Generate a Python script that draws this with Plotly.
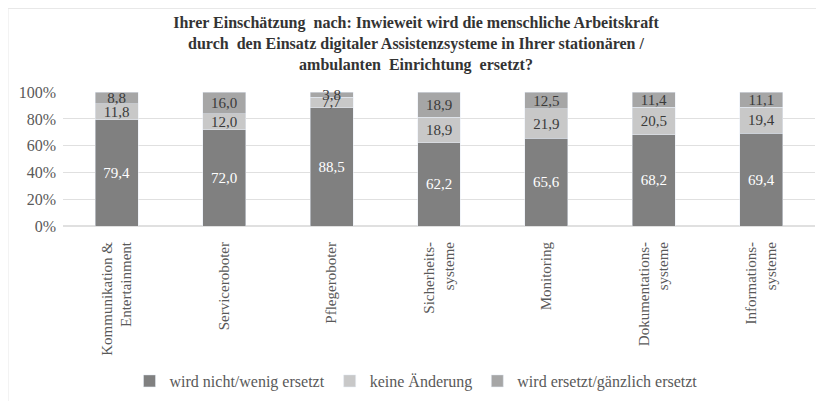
import plotly.graph_objects as go

categories = ["Kommunikation &<br>Entertainment", "Serviceroboter", "Pflegeroboter",
              "Sicherheits-<br>systeme", "Monitoring", "Dokumentations-<br>systeme",
              "Informations-<br>systeme"]
series_names = ["wird nicht/wenig ersetzt", "keine Änderung", "wird ersetzt/gänzlich ersetzt"]
nicht = [79.4, 72.0, 88.5, 62.2, 65.6, 68.2, 69.4]
keine = [11.8, 12.0, 7.7, 18.9, 21.9, 20.5, 19.4]
ersetzt = [8.8, 16.0, 3.8, 18.9, 12.5, 11.4, 11.1]
tick_vals = [0, 20, 40, 60, 80, 100]
tick_text = ["0%", "20%", "40%", "60%", "80%", "100%"]

colors = ["#808080", "#c8c8c8", "#a6a6a6"]
text_colors = ["#ffffff", "#3a3a3a", "#3a3a3a"]
FONT = "Liberation Serif"

# page body adds an 8px offset; figure is sized 816x393 to compensate
W, H = 816, 393

fig = go.Figure()
for name, vals, col, tc in zip(series_names, [nicht, keine, ersetzt], colors, text_colors):
    fig.add_trace(go.Bar(
        x=categories, y=vals, name=name, marker_color=col,
        text=[f"{v:.1f}".replace(".", ",") for v in vals],
        textposition="inside", insidetextanchor="middle", textangle=0,
        textfont=dict(family=FONT, size=15, color=tc),
        constraintext="none", cliponaxis=False,
    ))

fig.update_layout(
    barmode="stack", bargap=0.6,
    width=W, height=H,
    margin=dict(l=55, r=9, t=84, b=175),
    paper_bgcolor="white", plot_bgcolor="white",
    font=dict(family=FONT, color="#595959"),
    title=dict(
        text="<b>Ihrer Einschätzung  nach: Inwieweit wird die menschliche Arbeitskraft<br>"
             "durch  den Einsatz digitaler Assistenzsysteme in Ihrer stationären /<br>"
             "ambulanten  Einrichtung  ersetzt?</b>",
        x=0.5, xanchor="center", y=1 - 20 / H, yanchor="middle",
        font=dict(family=FONT, size=16, color="#333333"),
    ),
    xaxis=dict(tickangle=-90, tickfont=dict(family=FONT, size=15, color="#595959"),
               showline=False, ticks="", showgrid=False, automargin=False,
               ticklabelstandoff=12),
    yaxis=dict(range=[0, 100.15], tickvals=tick_vals, ticktext=tick_text,
               tickfont=dict(family=FONT, size=16, color="#595959"),
               showgrid=True, gridcolor="#e0e0e0", gridwidth=1, zeroline=True,
               zerolinecolor="#e0e0e0", ticks="", ticklabelstandoff=6, automargin=False),
    legend=dict(orientation="h", x=0.5, xref="container", xanchor="center",
                y=1 - 373 / H, yref="container", yanchor="middle",
                font=dict(family=FONT, size=16, color="#595959"),
                itemwidth=30, traceorder="normal"),
    shapes=[dict(type="rect", xref="paper", yref="paper",
                 x0=-55 / 752, x1=1.02, y0=-1.5, y1=1 + 83.5 / 134,
                 line=dict(color="#e8e8e8", width=1), fillcolor="rgba(0,0,0,0)", layer="below")],
)

fig.write_html("out.html")
